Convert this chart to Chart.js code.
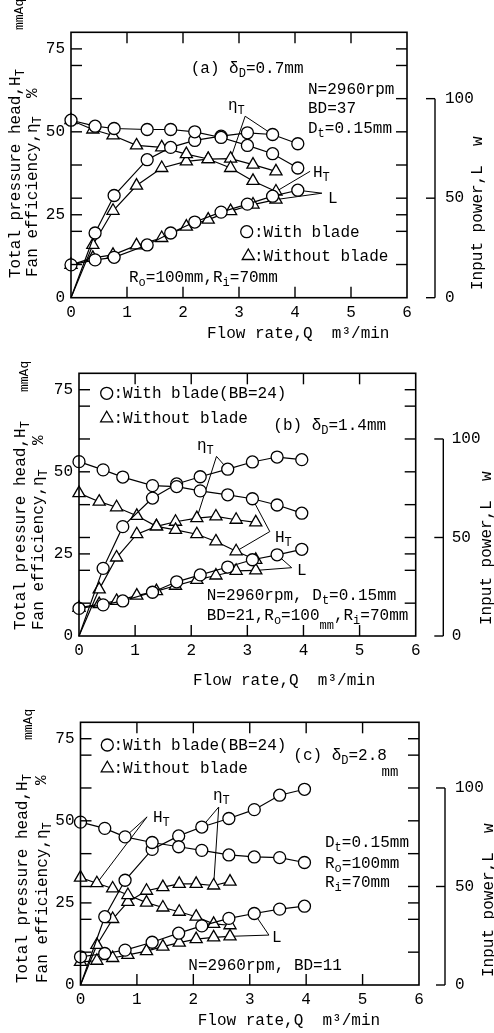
<!DOCTYPE html>
<html>
<head>
<meta charset="utf-8">
<script src="https://cdn.jsdelivr.net/npm/chart.js@4.4.1/dist/chart.umd.min.js"></script>
<style>
  html, body { margin: 0; padding: 0; background: #fff; }
  #wrap { position: relative; width: 494px; height: 1033px; overflow: hidden; }
  canvas { position: absolute; left: 0; }
</style>
</head>
<body>
<div id="wrap">
  <canvas id="chartA" width="494" height="345" style="top:0px"></canvas>
  <canvas id="chartB" width="494" height="345" style="top:345px"></canvas>
  <canvas id="chartC" width="494" height="343" style="top:690px"></canvas>
</div>
<script>
// ---- data (Q in m3/min, H_T in mmAq, eta_T in %, L in W) ----
// (a) deltaD = 0.7mm
const qWithA = [0, 0.43, 0.77, 1.36, 1.78, 2.21, 2.68, 3.15, 3.6, 4.05];
const hWithA = [53.5, 51.7, 51.0, 50.7, 50.7, 50.0, 48.3, 45.9, 43.4, 39.1];
const etaWithA = [0, 19.5, 30.8, 41.6, 45.3, 47.4, 48.7, 49.7, 49.2, 46.4];
const lWithA = [16.5, 19, 20.3, 26.5, 32.5, 38, 43, 47, 51, 54];
const qWithoutA = [0, 0.39, 0.75, 1.17, 1.62, 2.06, 2.45, 2.85, 3.25, 3.66];
const hWithoutA = [53.5, 50.7, 48.9, 45.9, 45.3, 43.3, 41.8, 39.1, 35.2, 32.0];
const etaWithoutA = [0, 15.9, 26.2, 33.8, 39.1, 41.1, 41.8, 41.9, 40.1, 38.1];
const lWithoutA = [16.5, 20, 21.5, 26.3, 30, 35.7, 39.2, 43.5, 46.8, 49.3];

// (b) deltaD = 1.4mm
const qWithB = [0, 0.43, 0.78, 1.31, 1.74, 2.16, 2.65, 3.09, 3.53, 3.97];
const hWithB = [53.1, 50.6, 48.4, 45.8, 45.5, 44.2, 43.0, 41.8, 39.9, 37.4];
const etaWithB = [0, 20.6, 33.3, 42.0, 46.3, 48.5, 50.8, 53.0, 54.5, 53.7];
const lWithB = [14, 15.8, 17.8, 22.2, 27.5, 31, 35, 38.7, 41.2, 44];
const qWithoutB = [0, 0.36, 0.67, 1.03, 1.38, 1.72, 2.1, 2.44, 2.8, 3.15];
const hWithoutB = [43.5, 40.9, 39.2, 36.6, 33.4, 32.3, 31.0, 28.8, 25.8, 23.2];
const etaWithoutB = [0, 14.2, 23.9, 31.0, 33.4, 34.8, 35.9, 36.4, 35.4, 34.6];
const lWithoutB = [14.3, 16.2, 17.8, 20.5, 22.8, 25.5, 28.5, 30.7, 33.1, 33.3];

// (c) deltaD = 2.8mm
const qWithC = [0, 0.43, 0.79, 1.27, 1.74, 2.15, 2.63, 3.08, 3.53, 3.97];
const hWithC = [49.6, 47.7, 45.1, 43.4, 42.1, 41.0, 39.6, 39.0, 38.8, 37.3];
const etaWithC = [0, 20.8, 31.9, 41.3, 45.4, 48.1, 50.7, 53.4, 57.8, 59.6];
const lWithC = [14.3, 16, 17.7, 21.7, 26.3, 30, 33.8, 36.3, 38.5, 40];
const qWithoutC = [0, 0.29, 0.57, 0.84, 1.17, 1.46, 1.75, 2.05, 2.36, 2.65];
const hWithoutC = [32.7, 31.0, 29.4, 27.4, 25.1, 23.6, 22.3, 20.8, 18.6, 18.2];
const etaWithoutC = [0, 12.2, 20.1, 25.3, 28.7, 29.8, 30.8, 30.8, 30.3, 31.5];
const lWithoutC = [11.7, 12.3, 13.7, 15.3, 17.2, 19.5, 21.5, 23.3, 24.2, 24.7];

// ---- tick labels ----
const xTicks = [0, 1, 2, 3, 4, 5, 6];
const leftTicks = [0, 25, 50, 75];
const edgeTicks = [10, 20, 25, 30, 40, 50, 60, 70, 75];
const powerTicks = [0, 50, 100];

const FONT = '"Liberation Mono", "DejaVu Sans Mono", monospace';

// dataset order: 0 H with, 1 eta with, 2 L with, 3 H without, 4 eta without, 5 L without
function series(q, v, style, axis, fromOrigin) {
  return {
    data: q.map((x, i) => ({ x: x, y: v[i] })),
    yAxisID: axis,
    borderColor: '#000',
    borderWidth: 1.2,
    pointStyle: style,
    pointRadius: ctx => (fromOrigin && ctx.dataIndex === 0) ? 0 : (style === 'triangle' ? 7 : 6),
    pointBackgroundColor: '#fff',
    pointBorderColor: '#000',
    pointBorderWidth: 1.3,
    tension: 0,
    fill: false,
    clip: false
  };
}

// texte avec indices : parties = 'texte' ou ['T','s'] (indice) ou ['mm','l'] (plus bas)
function drawRich(ctx, t) {
  const size = t.size || 16;
  ctx.save();
  ctx.translate(t.x, t.y);
  if (t.rot) ctx.rotate(-Math.PI / 2);
  ctx.fillStyle = '#000';
  ctx.textBaseline = 'alphabetic';
  ctx.textAlign = 'left';
  let cx = 0;
  t.parts.forEach(p => {
    const txt = Array.isArray(p) ? p[0] : p;
    const kind = Array.isArray(p) ? p[1] : '';
    ctx.font = (kind ? 12 : size) + 'px ' + FONT;
    const dy = kind === 's' ? 4 : (kind === 'l' ? 9 : 0);
    ctx.fillText(txt, cx, dy);
    cx += ctx.measureText(txt).width;
  });
  ctx.restore();
}

function line(ctx, x1, y1, x2, y2) {
  ctx.beginPath();
  ctx.moveTo(x1, y1);
  ctx.lineTo(x2, y2);
  ctx.stroke();
}

// pas de marge automatique : la zone du graphe est fixée à la main
function noPad(s) {
  s.paddingTop = 0; s.paddingBottom = 0; s.paddingLeft = 0; s.paddingRight = 0;
}

function makeDeco(p) {
  return {
    id: 'deco',
    beforeDatasetsDraw(chart) {
      // lignes de repère (eta_T, H_T, L)
      const { ctx, scales: { x, y } } = chart;
      ctx.save();
      ctx.strokeStyle = '#000';
      ctx.lineWidth = 1;
      p.leaders.forEach(l => {
        const vx = x.getPixelForValue(l.from[0]);
        const vy = y.getPixelForValue(l.from[1]);
        l.to.forEach(([ds, i]) => {
          const pt = chart.getDatasetMeta(ds).data[i];
          line(ctx, vx, vy, pt.x, pt.y);
        });
      });
      ctx.restore();
    },
    afterDraw(chart) {
      const { ctx, chartArea: a, scales: { x, y, y1 } } = chart;
      ctx.save();
      ctx.strokeStyle = '#000';
      ctx.lineWidth = 1.6;
      ctx.strokeRect(a.left, a.top, a.right - a.left, a.bottom - a.top);
      ctx.lineWidth = 1.4;
      // petites graduations intérieures
      edgeTicks.forEach(v => {
        const py = y.getPixelForValue(v);
        line(ctx, a.left, py, a.left + 11, py);
        line(ctx, a.right, py, a.right - 11, py);
      });
      xTicks.slice(1, -1).forEach(v => {
        const px = x.getPixelForValue(v);
        line(ctx, px, a.bottom, px, a.bottom - 11);
        line(ctx, px, a.top, px, a.top + 11);
      });
      // axe de puissance séparé
      line(ctx, p.powerX, y1.getPixelForValue(0), p.powerX, y1.getPixelForValue(100));
      powerTicks.forEach(v => {
        const py = y1.getPixelForValue(v);
        line(ctx, p.powerX - 9, py, p.powerX, py);
      });
      // symboles de légende
      ctx.fillStyle = '#fff';
      ctx.lineWidth = 1.3;
      ctx.beginPath();
      ctx.arc(p.circle[0], p.circle[1], 6, 0, Math.PI * 2);
      ctx.fill(); ctx.stroke();
      const [tx, ty] = p.tri, r = 7;
      ctx.beginPath();
      ctx.moveTo(tx, ty - r);
      ctx.lineTo(tx + r * 0.866, ty + r / 2);
      ctx.lineTo(tx - r * 0.866, ty + r / 2);
      ctx.closePath();
      ctx.fill(); ctx.stroke();
      ctx.restore();
      p.texts.forEach(t => drawRich(ctx, t));
    }
  };
}

function makeChart(p) {
  const el = document.getElementById(p.id);
  const H = el.height, W = el.width;
  const tickFont = { family: FONT, size: 16 };
  new Chart(el, {
    type: 'line',
    data: {
      datasets: [
        series(p.qWith, p.hWith, 'circle', 'y', false),
        series(p.qWith, p.etaWith, 'circle', 'y', true),
        series(p.qWith, p.lWith, 'circle', 'y1', false),
        series(p.qWithout, p.hWithout, 'triangle', 'y', false),
        series(p.qWithout, p.etaWithout, 'triangle', 'y', true),
        series(p.qWithout, p.lWithout, 'triangle', 'y1', false)
      ]
    },
    options: {
      responsive: false,
      animation: false,
      layout: { padding: { top: p.box.top, left: 0, right: 0, bottom: 0 } },
      plugins: { legend: { display: false }, tooltip: { enabled: false } },
      scales: {
        x: {
          type: 'linear', min: 0, max: 6,
          afterBuildTicks: s => { s.ticks = xTicks.map(v => ({ value: v })); },
          ticks: { padding: 5, font: tickFont, color: '#000' },
          grid: { display: false, drawTicks: false },
          border: { display: false },
          afterFit: s => { s.height = H - p.box.bottom; noPad(s); }
        },
        y: {
          position: 'left', min: 0, max: 80,
          afterBuildTicks: s => { s.ticks = leftTicks.map(v => ({ value: v })); },
          ticks: { padding: 6, font: tickFont, color: '#000' },
          grid: { display: false, drawTicks: false },
          border: { display: false },
          afterFit: s => { s.width = p.box.left; noPad(s); }
        },
        y1: {
          position: 'right', min: 0, max: 400 / 3,
          afterBuildTicks: s => { s.ticks = powerTicks.map(v => ({ value: v })); },
          ticks: { padding: p.rPad, font: tickFont, color: '#000' },
          grid: { display: false, drawTicks: false },
          border: { display: false },
          afterFit: s => { s.width = W - p.box.right; noPad(s); }
        }
      }
    },
    plugins: [makeDeco(p)]
  });
}

const panels = [
  {
    id: 'chartA',
    box: { left: 71, top: 32.3, right: 407, bottom: 297.7 },
    rPad: 38, powerX: 435,
    qWith: qWithA, hWith: hWithA, etaWith: etaWithA, lWith: lWithA,
    qWithout: qWithoutA, hWithout: hWithoutA, etaWithout: etaWithoutA, lWithout: lWithoutA,
    circle: [246.7, 231.7], tri: [248.3, 256],
    leaders: [
      { from: [3.11, 54.7], to: [[4, 7], [1, 8]] },
      { from: [4.27, 38.1], to: [[3, 9]] },
      { from: [4.48, 31.5], to: [[2, 9], [5, 9]] }
    ],
    texts: [
      { x: 190.7, y: 73, parts: ['(a) δ', ['D', 's'], '=0.7mm'] },
      { x: 308, y: 94, parts: ['N=2960rpm'] },
      { x: 308, y: 113, parts: ['BD=37'] },
      { x: 308, y: 133, parts: ['D', ['t', 's'], '=0.15mm'] },
      { x: 228, y: 110, parts: ['η', ['T', 's']] },
      { x: 313, y: 177, parts: ['H', ['T', 's']] },
      { x: 328, y: 203, parts: ['L'] },
      { x: 254, y: 237, parts: [':With blade'] },
      { x: 254, y: 261, parts: [':Without blade'] },
      { x: 129, y: 282, parts: ['R', ['o', 's'], '=100mm,R', ['i', 's'], '=70mm'] },
      { x: 207, y: 338, parts: ['Flow rate,Q  m³/min'] },
      { x: 20, y: 278, rot: true, parts: ['Total pressure head,H', ['T', 's']] },
      { x: 23, y: 30, rot: true, size: 13, parts: ['mmAq'] },
      { x: 37, y: 277, rot: true, parts: ['Fan efficiency,η', ['T', 's']] },
      { x: 37, y: 98, rot: true, parts: ['%'] },
      { x: 482, y: 290, rot: true, parts: ['Input power,L  w'] }
    ]
  },
  {
    id: 'chartB',
    box: { left: 79, top: 28.3, right: 415.7, bottom: 291 },
    rPad: 36, powerX: 443.3,
    qWith: qWithB, hWith: hWithB, etaWith: etaWithB, lWith: lWithB,
    qWithout: qWithoutB, hWithout: hWithoutB, etaWithout: etaWithoutB, lWithout: lWithoutB,
    circle: [106.7, 48.3], tri: [106.7, 73.3],
    leaders: [
      { from: [2.45, 54.7], to: [[4, 6], [1, 6]] },
      { from: [3.40, 31.8], to: [[0, 7], [3, 8]] },
      { from: [3.79, 20.8], to: [[2, 8], [5, 9]] }
    ],
    texts: [
      { x: 113.5, y: 53.3, parts: [':With blade(BB=24)'] },
      { x: 113.5, y: 78, parts: [':Without blade'] },
      { x: 273.3, y: 85, parts: ['(b) δ', ['D', 's'], '=1.4mm'] },
      { x: 197, y: 105, parts: ['η', ['T', 's']] },
      { x: 275, y: 197, parts: ['H', ['T', 's']] },
      { x: 297, y: 230, parts: ['L'] },
      { x: 206.7, y: 255, parts: ['N=2960rpm, D', ['t', 's'], '=0.15mm'] },
      { x: 206.7, y: 275, parts: ['BD=21,R', ['o', 's'], '=100', ['mm', 'l'], ',R', ['i', 's'], '=70mm'] },
      { x: 193, y: 340, parts: ['Flow rate,Q  m³/min'] },
      { x: 25, y: 285, rot: true, parts: ['Total pressure head,H', ['T', 's']] },
      { x: 28, y: 47, rot: true, size: 13, parts: ['mmAq'] },
      { x: 43, y: 285, rot: true, parts: ['Fan efficiency,η', ['T', 's']] },
      { x: 43, y: 100, rot: true, parts: ['%'] },
      { x: 491, y: 280, rot: true, parts: ['Input power,L  w'] }
    ]
  },
  {
    id: 'chartC',
    box: { left: 80.5, top: 32.3, right: 419, bottom: 295 },
    rPad: 36, powerX: 445,
    qWith: qWithC, hWith: hWithC, etaWith: etaWithC, lWith: lWithC,
    qWithout: qWithoutC, hWithout: hWithoutC, etaWithout: etaWithoutC, lWithout: lWithoutC,
    circle: [107.3, 55], tri: [107.3, 78.3],
    leaders: [
      { from: [1.18, 51.2], to: [[3, 1], [0, 2]] },
      { from: [2.45, 54.2], to: [[1, 5], [4, 8]] },
      { from: [3.34, 15.2], to: [[2, 7], [5, 9]] }
    ],
    texts: [
      { x: 113.5, y: 60, parts: [':With blade(BB=24)'] },
      { x: 113.5, y: 83, parts: [':Without blade'] },
      { x: 293.3, y: 70, parts: ['(c) δ', ['D', 's'], '=2.8'] },
      { x: 381.5, y: 86, size: 14, parts: ['mm'] },
      { x: 213, y: 110, parts: ['η', ['T', 's']] },
      { x: 153, y: 132, parts: ['H', ['T', 's']] },
      { x: 272, y: 252, parts: ['L'] },
      { x: 325, y: 157, parts: ['D', ['t', 's'], '=0.15mm'] },
      { x: 325, y: 178, parts: ['R', ['o', 's'], '=100mm'] },
      { x: 325, y: 197, parts: ['R', ['i', 's'], '=70mm'] },
      { x: 188.3, y: 280, parts: ['N=2960rpm, BD=11'] },
      { x: 197.7, y: 335, parts: ['Flow rate,Q  m³/min'] },
      { x: 27, y: 293, rot: true, parts: ['Total pressure head,H', ['T', 's']] },
      { x: 32, y: 50, rot: true, size: 13, parts: ['mmAq'] },
      { x: 47, y: 293, rot: true, parts: ['Fan efficiency,η', ['T', 's']] },
      { x: 46, y: 95, rot: true, parts: ['%'] },
      { x: 493, y: 287, rot: true, parts: ['Input power,L  w'] }
    ]
  }
];

panels.forEach(makeChart);
</script>
</body>
</html>
